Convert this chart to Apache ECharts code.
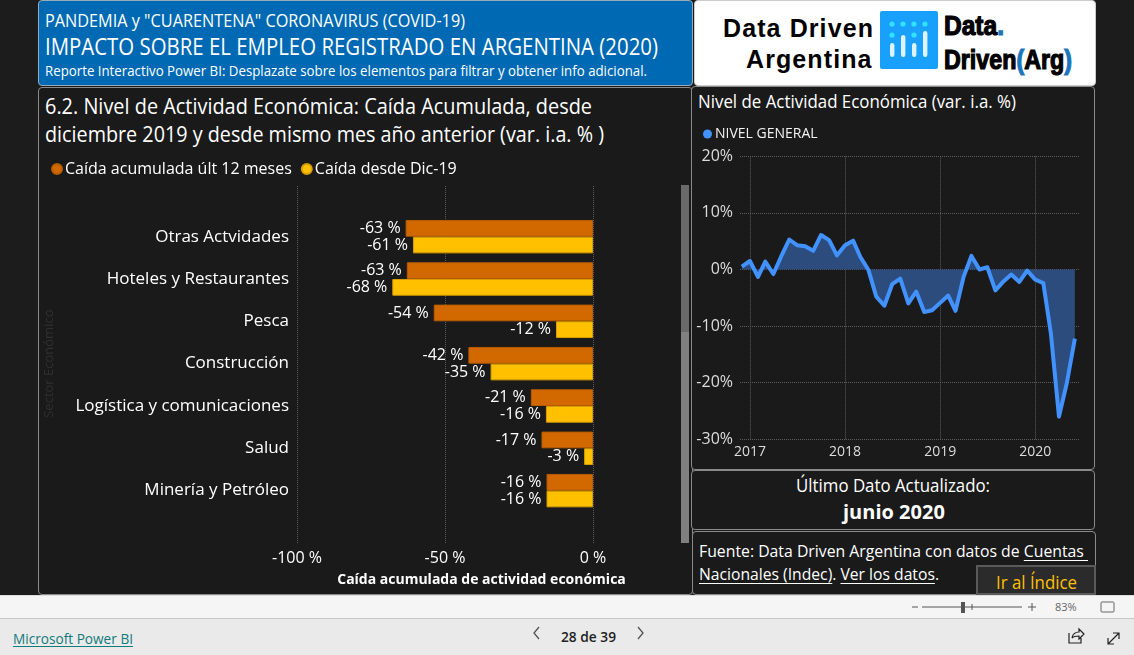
<!DOCTYPE html>
<html lang="es"><head><meta charset="utf-8">
<script src="https://cdn.jsdelivr.net/npm/echarts@6/dist/echarts.min.js"></script>
<style>
html,body{margin:0;padding:0;width:1134px;height:655px;overflow:hidden;background:#1c1c1c;font-family:"Open Sans",sans-serif;color:#fff}
.box{position:absolute;box-sizing:border-box;background:#1a1a1a;border:1px solid #8a8a8a;border-radius:4px}
.t{position:absolute;white-space:nowrap;line-height:1;transform-origin:0 50%}
u{text-underline-offset:3px}
#chart{position:absolute;left:0;top:0;width:1134px;height:655px}
</style></head><body>
<div class="box" style="left:38px;top:0;width:655px;height:86px;background:#0069b4;border-color:#9ab"></div>
<div class="box" style="left:694px;top:0;width:402px;height:86px;background:#fff;border-color:#ccc"></div>
<div class="box" style="left:38px;top:87px;width:655px;height:508px"></div>
<div class="box" style="left:691px;top:86px;width:404px;height:384px"></div>
<div class="box" style="left:691px;top:470px;width:404px;height:60px"></div>
<div class="box" style="left:692px;top:531px;width:404px;height:64px"></div>
<div style="position:absolute;left:681px;top:185px;width:8px;height:147px;background:#6a6a6a"></div>
<div style="position:absolute;left:681px;top:332px;width:8px;height:211px;background:#808080"></div>

<div class="t" data-w="420" style="left:45px;top:11px;font-size:18px">PANDEMIA y "CUARENTENA" CORONAVIRUS (COVID-19)</div>
<div class="t" data-w="613" style="left:45px;top:35px;font-size:23px">IMPACTO SOBRE EL EMPLEO REGISTRADO EN ARGENTINA (2020)</div>
<div class="t" data-w="602" style="left:45px;top:63px;font-size:15px">Reporte Interactivo Power BI: Desplazate sobre los elementos para filtrar y obtener info adicional.</div>

<div class="t" data-w="547" style="left:45px;top:94px;font-size:22px">6.2. Nivel de Actividad Económica: Caída Acumulada, desde</div>
<div class="t" data-w="559" style="left:45px;top:122px;font-size:22px">diciembre 2019 y desde mismo mes año anterior (var. i.a. % )</div>
<div class="t" data-w="318" style="left:698px;top:92px;font-size:18px">Nivel de Actividad Económica (var. i.a. %)</div>

<div class="t" data-w="194" style="left:796px;top:476px;font-size:18px">Último Dato Actualizado:</div>
<div class="t" style="left:843px;top:502px;font-size:20px;font-weight:700">junio 2020</div>
<div class="t" data-w="389" style="left:699px;top:542px;font-size:17px">Fuente: Data Driven Argentina con datos de <u>Cuentas&nbsp;</u></div>
<div class="t" data-w="240" style="left:699px;top:565px;font-size:17px"><u>Nacionales (Indec)</u>. <u>Ver los datos</u>.</div>
<div class="box" style="left:976px;top:565px;width:120px;height:30px;background:#2b2b2b;border:2px solid #5a5a5a;border-radius:0"></div>
<div class="t" data-w="81" style="left:996px;top:573px;font-size:18px;color:#ffc000">Ir al Índice</div>

<div class="t" style="left:723px;top:14px;font:700 25px 'Liberation Sans';color:#000;letter-spacing:1.1px">Data Driven</div>
<div class="t" style="left:746px;top:45px;font:700 25px 'Liberation Sans';color:#000;letter-spacing:1.1px">Argentina</div>
<svg style="position:absolute;left:880px;top:11px" width="58" height="58" viewBox="0 0 58 58">
<rect width="58" height="58" rx="2" fill="#18a0fb"/>
<g fill="#2fe3ff"><circle cx="12" cy="13" r="2.6"/><circle cx="23" cy="13" r="2.6"/><circle cx="34" cy="13" r="2.6"/><circle cx="45" cy="13" r="2.6"/><circle cx="12" cy="24" r="2.6"/><circle cx="34" cy="24" r="2.6"/></g>
<g fill="#dff3ff"><rect x="10" y="32" width="4.4" height="14" rx="2.2"/><rect x="21" y="24" width="4.4" height="22" rx="2.2"/><rect x="32" y="32" width="4.4" height="14" rx="2.2"/><rect x="43" y="20" width="4.4" height="26" rx="2.2"/></g>
</svg>
<div class="t" data-w="60" style="left:944px;top:11px;font:700 27px 'Liberation Sans Narrow','Liberation Sans';color:#000;-webkit-text-stroke:1.2px #000">Data<span style="color:#1b75bb;-webkit-text-stroke-color:#1b75bb">.</span></div>
<div class="t" data-w="128" style="left:944px;top:45px;font:700 27px 'Liberation Sans Narrow','Liberation Sans';color:#000;-webkit-text-stroke:1.2px #000">Driven<span style="color:#1b75bb;-webkit-text-stroke-color:#1b75bb">(</span>Arg<span style="color:#1b75bb;-webkit-text-stroke-color:#1b75bb">)</span></div>

<div style="position:absolute;left:0;top:595px;width:1134px;height:23px;background:#f5f5f5;border-top:1px solid #ddd;box-sizing:border-box"></div>
<div style="position:absolute;left:0;top:618px;width:1134px;height:37px;background:#eaeaea;border-top:1px solid #c8c8c8;box-sizing:border-box"></div>
<div class="t" data-w="120" style="left:13px;top:632px;font-size:14px;color:#117a7a;text-decoration:underline;text-underline-offset:2px">Microsoft Power BI</div>
<div class="t" data-w="55" style="left:561px;top:631px;font-size:13.5px;color:#222;font-weight:600">28 de 39</div>
<div class="t" style="left:1055px;top:601px;font-size:11px;color:#666">83%</div>
<svg style="position:absolute;left:0;top:595px" width="1134" height="60" fill="none" stroke="#444">
<path d="M539 37l-5 6 5 6M638 37l5 6-5 6" transform="translate(0,-5)" stroke="#555" stroke-width="1.3"/>
<path d="M912 12h6M922 12h100M1028 12h8M1032 8v8M972 9v6" stroke="#555"/>
<rect x="961" y="7" width="4" height="11" fill="#555" stroke="none"/>
<rect x="1101" y="7" width="13" height="10" rx="1" stroke="#666"/>
<path d="M1069 38v10h12v-5M1072 43q1-6 7-6v-3l5 5-5 5v-3q-5 0-7 2" stroke="#222" stroke-width="1.2"/>
<path d="M1108 49l11-11M1113 38h6v6M1108 43v6h6" stroke="#222" stroke-width="1.2"/>
</svg>

<div id="chart"></div>
<script>
const sectors=['Otras Actvidades','Hoteles y Restaurantes','Pesca','Construcción','Logística y comunicaciones','Salud','Minería y Petróleo'];
const fall12m=[-63.3,-62.9,-53.8,-42.1,-21,-17.4,-15.7];
const fallDec19=[-60.8,-67.8,-12.5,-34.6,-15.9,-3,-15.7];
const months=['2016-12','2017-01','2017-02','2017-03','2017-04','2017-05','2017-06','2017-07','2017-08','2017-09','2017-10','2017-11','2017-12','2018-01','2018-02','2018-03','2018-04','2018-05','2018-06','2018-07','2018-08','2018-09','2018-10','2018-11','2018-12','2019-01','2019-02','2019-03','2019-04','2019-05','2019-06','2019-07','2019-08','2019-09','2019-10','2019-11','2019-12','2020-01','2020-02','2020-03','2020-04','2020-05','2020-06'];
const general=[0.5,1.5,-1.3,1.4,-0.8,2.3,5.3,4.3,4.1,3.3,6.1,5.2,2.5,4.3,5.1,2.2,-0.1,-4.8,-6.4,-2.6,-1.6,-6.0,-3.9,-7.5,-7.2,-5.9,-4.6,-7.3,-1.3,2.4,0,0.4,-3.7,-2.1,-0.9,-2.2,-0.2,-1.8,-2.4,-11.3,-26,-20.1,-12.2];
const FONT='Open Sans';
const ORANGE='#d26900',YELLOW='#ffc000',BLUE='#4192ff';
const grid='#5c5c5c';
const dayMs=86400000;
const pct=p=>Math.round(p.value)+' %';
function barLabel(){return {show:true,position:'left',distance:5,color:'#fff',fontFamily:FONT,fontSize:16,formatter:pct};}
const chart=echarts.init(document.getElementById('chart'),null,{renderer:'canvas'});
chart.setOption({
 animation:false,
 backgroundColor:'transparent',
 legend:[
  {left:46,top:156,orient:'horizontal',icon:'circle',itemWidth:10,itemHeight:10,itemGap:9,selectedMode:false,
   data:['Caída acumulada últ 12 meses','Caída desde Dic-19'],textStyle:{color:'#fff',fontFamily:FONT,fontSize:16,padding:[0,0,0,-2]}},
  {left:698,top:122,icon:'circle',itemWidth:9,itemHeight:9,selectedMode:false,
   data:['NIVEL GENERAL'],textStyle:{color:'#f2f2f2',fontFamily:FONT,fontSize:14,padding:[0,0,0,-2]}}
 ],
 grid:[
  {left:297,width:296,top:215.5,height:296.3},
  {left:297,width:296,top:186,height:357},
  {left:740,width:339.3,top:156.3,height:283}
 ],
 xAxis:[
  {gridIndex:0,type:'value',min:-100,max:0,show:false},
  {gridIndex:1,type:'value',min:-100,max:0,interval:50,axisLine:{show:false},axisTick:{show:false},
   splitLine:{show:true,lineStyle:{color:grid,type:'dotted'}},
   axisLabel:{color:'#fff',fontFamily:FONT,fontSize:16,margin:7,formatter:v=>v+' %'},
   name:'Caída acumulada de actividad económica',nameLocation:'middle',nameGap:30,
   nameTextStyle:{color:'#fff',fontFamily:FONT,fontSize:14,fontWeight:'bold',padding:[0,0,0,73]}},
  {gridIndex:2,type:'time',min:new Date('2016-11-24').getTime(),max:new Date('2020-06-18').getTime(),splitNumber:3,
   axisLine:{show:false},axisTick:{show:false},
   splitLine:{show:true,showMinLine:false,showMaxLine:false,lineStyle:{color:grid,type:'dotted'}},
   axisLabel:{color:'#ddd',fontFamily:FONT,fontSize:14,margin:6,showMinLabel:false,showMaxLabel:false,formatter:'{yyyy}'}}
 ],
 yAxis:[
  {gridIndex:0,type:'category',inverse:true,data:sectors,axisLine:{show:false},axisTick:{show:false},
   axisLabel:{color:'#fff',fontFamily:FONT,fontSize:17,margin:8},
   name:'Sector Económico',nameLocation:'middle',nameGap:241,nameRotate:90,nameTextStyle:{color:'#303030',fontFamily:FONT,fontSize:13}},
  {gridIndex:1,type:'value',min:0,max:1,show:false},
  {gridIndex:2,type:'value',min:-30,max:20,interval:10,axisLine:{show:false},axisTick:{show:false},
   splitLine:{show:true,lineStyle:{color:grid,type:'dotted'}},
   axisLabel:{color:'#ddd',fontFamily:FONT,fontSize:16,margin:7,formatter:v=>v+'%'}}
 ],
 series:[
  {name:'Caída acumulada últ 12 meses',type:'bar',xAxisIndex:0,yAxisIndex:0,data:fall12m,barWidth:16.7,barGap:0,
   itemStyle:{color:ORANGE,borderColor:'#b85c00',borderWidth:1},label:barLabel()},
  {name:'Caída desde Dic-19',type:'bar',xAxisIndex:0,yAxisIndex:0,data:fallDec19,barWidth:16.7,barGap:0,
   itemStyle:{color:YELLOW,borderColor:'#d99f00',borderWidth:1},label:barLabel()},
  {name:'NIVEL GENERAL',type:'line',xAxisIndex:2,yAxisIndex:2,showSymbol:false,symbol:'circle',
   data:months.map((m,i)=>[m+'-01',general[i]]),
   itemStyle:{color:BLUE},lineStyle:{color:BLUE,width:4,join:'round'},areaStyle:{color:'#2b4c7c',opacity:1}}
 ]
});
document.querySelectorAll('[data-w]').forEach(el=>{
  const w=el.getBoundingClientRect().width;
  el.style.transform='scaleX('+(parseFloat(el.dataset.w)/w)+')';
});
</script>
</body></html>
